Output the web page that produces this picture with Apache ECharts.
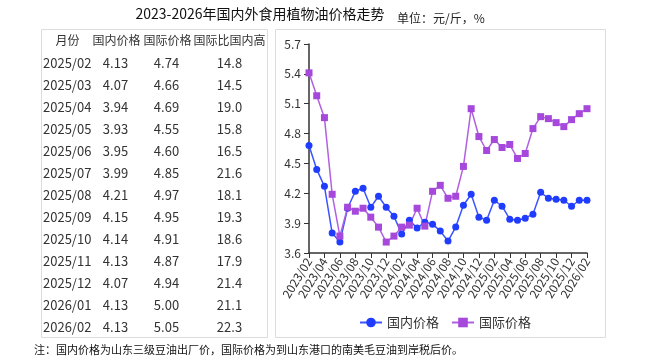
<!DOCTYPE html>
<html><head><meta charset="utf-8">
<script src="https://cdn.jsdelivr.net/npm/echarts@6/dist/echarts.min.js"></script>
<style>html,body{margin:0;padding:0;background:#fff}#c{width:648px;height:363px}</style>
</head><body><div id="c"></div>
<script>
const months = ['2023/02','2023/03','2023/04','2023/05','2023/06','2023/07','2023/08','2023/09','2023/10','2023/11','2023/12',
'2024/01','2024/02','2024/03','2024/04','2024/05','2024/06','2024/07','2024/08','2024/09','2024/10','2024/11','2024/12',
'2025/01','2025/02','2025/03','2025/04','2025/05','2025/06','2025/07','2025/08','2025/09','2025/10','2025/11','2025/12',
'2026/01','2026/02'];
const domestic = [4.68,4.44,4.27,3.80,3.71,4.05,4.22,4.25,4.06,4.17,4.06,
3.97,3.79,3.93,3.85,3.91,3.89,3.82,3.72,3.86,4.08,4.19,3.96,
3.93,4.13,4.07,3.94,3.93,3.95,3.99,4.21,4.15,4.14,4.13,4.07,
4.13,4.13];
const international = [5.41,5.18,4.96,4.19,3.77,4.06,4.02,4.05,3.96,3.86,3.71,
3.77,3.86,3.88,4.05,3.87,4.22,4.28,4.15,4.17,4.47,5.05,4.77,
4.63,4.74,4.66,4.69,4.55,4.60,4.85,4.97,4.95,4.91,4.87,4.94,
5.00,5.05];
const seriesNames = ['国内价格','国际价格'];
const tableHeader = ['月份','国内价格','国际价格','国际比国内高'];
const tableMonths = ['2025/02','2025/03','2025/04','2025/05','2025/06','2025/07','2025/08','2025/09','2025/10','2025/11','2025/12','2026/01','2026/02'];
const tableDomestic = ['4.13','4.07','3.94','3.93','3.95','3.99','4.21','4.15','4.14','4.13','4.07','4.13','4.13'];
const tableIntl = ['4.74','4.66','4.69','4.55','4.60','4.85','4.97','4.95','4.91','4.87','4.94','5.00','5.05'];
const tableRatio = ['14.8','14.5','19.0','15.8','16.5','21.6','18.1','19.3','18.6','17.9','21.4','21.1','22.3'];
const titleText = '2023-2026年国内外食用植物油价格走势';
const unitText = '单位：元/斤，%';
const noteText = '注：国内价格为山东三级豆油出厂价，国际价格为到山东港口的南美毛豆油到岸税后价。';
const yTicks = {min:3.6, max:5.7, interval:0.3};

const FONT = '"Noto Sans CJK SC", "Noto Sans", sans-serif';
const chart = echarts.init(document.getElementById('c'));
const g = [];
g.push({type:'rect', shape:{x:41.5,y:29.5,width:226,height:308}, style:{fill:'none',stroke:'#dcdcdc',lineWidth:1}});
g.push({type:'rect', shape:{x:275.5,y:29.5,width:330,height:308}, style:{fill:'none',stroke:'#dcdcdc',lineWidth:1}});
g.push({type:'text', x:260, y:14, style:{text:titleText, font:'14px '+FONT, fill:'#111', align:'center', verticalAlign:'middle'}});
g.push({type:'text', x:397, y:18, style:{text:unitText, font:'12px '+FONT, fill:'#222', align:'left', verticalAlign:'middle'}});
g.push({type:'text', x:34, y:350, style:{text:noteText, font:'11px '+FONT, fill:'#111', align:'left', verticalAlign:'middle'}});
const hx = [67.5,116.5,167.5,229.5];
tableHeader.forEach((t,i)=>g.push({type:'text', x:hx[i], y:40, style:{text:t, font:'12px '+FONT, fill:'#333', align:'center', verticalAlign:'middle'}}));
tableMonths.forEach((m,r)=>{
  const y = 62.7 + r*22.05;
  g.push({type:'text', x:43, y:y, style:{text:m, font:'13px '+FONT, fill:'#333', align:'left', verticalAlign:'middle'}});
  g.push({type:'text', x:115.5, y:y, style:{text:tableDomestic[r], font:'13px '+FONT, fill:'#333', align:'center', verticalAlign:'middle'}});
  g.push({type:'text', x:166.5, y:y, style:{text:tableIntl[r], font:'13px '+FONT, fill:'#333', align:'center', verticalAlign:'middle'}});
  g.push({type:'text', x:229.5, y:y, style:{text:tableRatio[r], font:'13px '+FONT, fill:'#333', align:'center', verticalAlign:'middle'}});
});

chart.setOption({
  animation:false,
  textStyle:{fontFamily:FONT},
  graphic:g,
  grid:{left:309, right:61, top:44, bottom:110, containLabel:false},
  legend:{
    data:seriesNames, left:354, top:311, itemWidth:22, itemHeight:12, itemGap:12,
    textStyle:{fontSize:13, color:'#333'}
  },
  xAxis:{
    type:'category', data:months, boundaryGap:false,
    axisLine:{lineStyle:{color:'#333', width:1.5}},
    axisTick:{interval:1, length:5, lineStyle:{color:'#333'}},
    axisLabel:{interval:1, rotate:58, fontSize:12, color:'#333', margin:6}
  },
  yAxis:{
    type:'value', min:yTicks.min, max:yTicks.max, interval:yTicks.interval,
    axisLine:{show:true, lineStyle:{color:'#333', width:1.5}},
    axisTick:{show:true, length:5, lineStyle:{color:'#333'}},
    splitLine:{show:false},
    axisLabel:{fontSize:12, color:'#333', margin:8, formatter:v=>v.toFixed(1)}
  },
  series:[
    {name:seriesNames[0], type:'line', data:domestic, symbol:'circle', symbolSize:7, showAllSymbol:true,
     itemStyle:{color:'#1f3cff'}, lineStyle:{color:'#3a55ff', width:1.5}},
    {name:seriesNames[1], type:'line', data:international, symbol:'rect', symbolSize:7, showAllSymbol:true,
     itemStyle:{color:'#a648dc'}, lineStyle:{color:'#b060e0', width:1.5}}
  ]
});
</script></body></html>
